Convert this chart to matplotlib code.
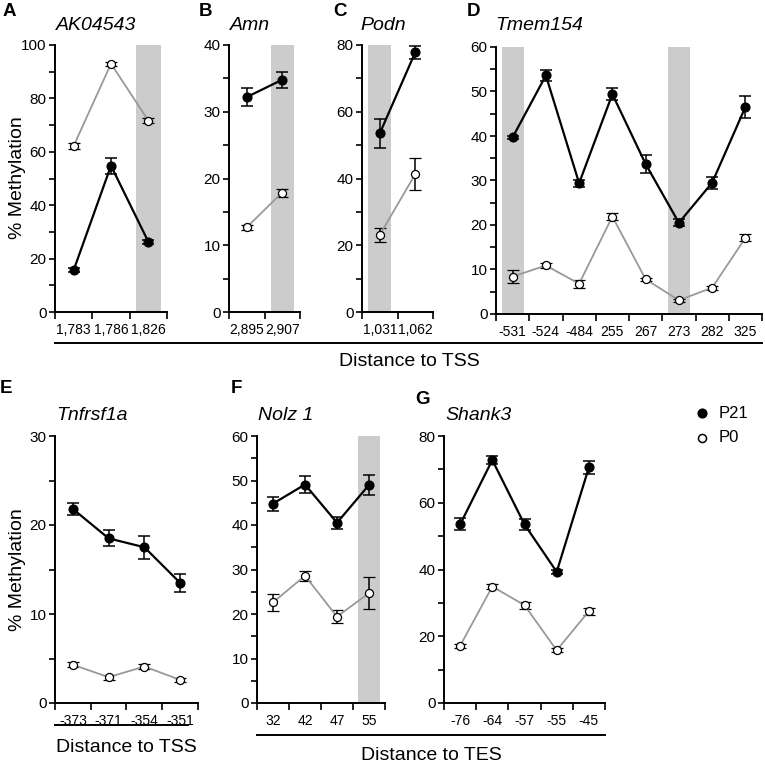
import numpy as np
import matplotlib
matplotlib.use("Agg")
import matplotlib.pyplot as plt
from matplotlib.lines import Line2D

plt.rcParams['font.family'] = ['Liberation Sans', 'DejaVu Sans']

W, H = 765, 763

# A - AK04543
ak_sites = ['1,783', '1,786', '1,826']
ak_p21 = [15.7, 54.8, 26.3]
ak_p21_err = [0.7, 3.0, 0.8]
ak_p0 = [62.2, 93.0, 71.7]
ak_p0_err = [1.0, 0.7, 1.0]
ak_shade = [2]

# B - Amn
amn_sites = ['2,895', '2,907']
amn_p21 = [32.2, 34.8]
amn_p21_err = [1.4, 1.2]
amn_p0 = [12.7, 17.9]
amn_p0_err = [0.4, 0.6]
amn_shade = [1]

# C - Podn
podn_sites = ['1,031', '1,062']
podn_p21 = [53.5, 77.8]
podn_p21_err = [4.4, 2.0]
podn_p0 = [23.1, 41.3]
podn_p0_err = [2.2, 4.8]
podn_shade = [0]

# D - Tmem154
tmem_sites = ['-531', '-524', '-484', '255', '267', '273', '282', '325']
tmem_p21 = [39.7, 53.6, 29.4, 49.4, 33.7, 20.5, 29.5, 46.5]
tmem_p21_err = [0.3, 1.3, 0.8, 1.3, 2.0, 0.8, 1.3, 2.4]
tmem_p0 = [8.4, 10.9, 6.8, 21.9, 7.8, 3.1, 5.9, 17.1]
tmem_p0_err = [1.5, 0.5, 0.9, 0.7, 0.4, 0.3, 0.5, 0.8]
tmem_shade = [0, 5]

# E - Tnfrsf1a
tnf_sites = ['-373', '-371', '-354', '-351']
tnf_p21 = [21.8, 18.5, 17.5, 13.5]
tnf_p21_err = [0.7, 0.9, 1.3, 1.0]
tnf_p0 = [4.3, 2.9, 4.1, 2.6]
tnf_p0_err = [0.3, 0.3, 0.3, 0.2]
tnf_shade = []

# F - Nolz 1
nolz_sites = ['32', '42', '47', '55']
nolz_p21 = [44.8, 49.1, 40.5, 49.0]
nolz_p21_err = [1.6, 1.9, 1.4, 2.2]
nolz_p0 = [22.6, 28.6, 19.4, 24.7]
nolz_p0_err = [1.9, 1.1, 1.5, 3.6]
nolz_shade = [3]

# G - Shank3
shank_sites = ['-76', '-64', '-57', '-55', '-45']
shank_p21 = [53.5, 72.8, 53.5, 39.3, 70.6]
shank_p21_err = [1.8, 1.2, 1.7, 0.7, 2.0]
shank_p0 = [17.1, 34.9, 29.3, 15.8, 27.5]
shank_p0_err = [0.7, 0.8, 1.0, 0.6, 1.1]
shank_shade = []


def fxy(px, py):
    return px / W, 1 - py / H


def px_axes(fig, x0, y0, x1, y1):
    return fig.add_axes([x0 / W, 1 - y1 / H, (x1 - x0) / W, (y1 - y0) / H])


def draw_panel(ax, sites, p21, p21_err, p0, p0_err, shade, ymax, ystep, yminor):
    n = len(sites)
    x = np.arange(n)
    for i in shade:
        ax.axvspan(i - 0.33, i + 0.33, color='#cccccc', lw=0, zorder=0)
    ax.errorbar(x, p0, yerr=p0_err, color='#999999', lw=1.3, marker='o', ms=5.8,
                mfc='white', mec='black', mew=0.9, ecolor='black', elinewidth=1.1,
                capsize=4, capthick=1.1, zorder=3)
    ax.errorbar(x, p21, yerr=p21_err, color='black', lw=1.6, marker='o', ms=6.3,
                mfc='black', mec='black', ecolor='black', elinewidth=1.1,
                capsize=4, capthick=1.1, zorder=4)
    ax.set_xlim(-0.5, n - 0.5)
    ax.set_ylim(0, ymax)
    ax.set_xticks(np.arange(-0.5, n, 1))
    ax.set_xticklabels([])
    ax.set_xticks(x, minor=True)
    ax.set_xticklabels(sites, minor=True, fontsize=10)
    ax.tick_params(axis='x', which='minor', length=0, pad=8)
    ax.tick_params(axis='x', which='major', length=5, width=1.2)
    ax.set_yticks(np.arange(0, ymax + 0.1, ystep))
    ax.set_yticks(np.arange(0, ymax + 0.1, yminor), minor=True)
    ax.tick_params(axis='y', which='both', length=4.5, width=1.2, labelsize=11, pad=1.5)
    for s in ['top', 'right']:
        ax.spines[s].set_visible(False)
    for s in ['left', 'bottom']:
        ax.spines[s].set_linewidth(1.4)
    ax.patch.set_alpha(0)


fig = plt.figure(figsize=(W / 100, H / 100), dpi=100)

panels = [
    ((55, 45, 167, 312), ak_sites, ak_p21, ak_p21_err, ak_p0, ak_p0_err, ak_shade, 100, 20, 10,
     'AK04543', 'A', (9, 12), (56, 25)),
    ((229, 45, 300, 312), amn_sites, amn_p21, amn_p21_err, amn_p0, amn_p0_err, amn_shade, 40, 10, 5,
     'Amn', 'B', (206, 12), (230, 25)),
    ((362, 45, 433, 312), podn_sites, podn_p21, podn_p21_err, podn_p0, podn_p0_err, podn_shade, 80, 20, 10,
     'Podn', 'C', (340, 12), (360, 25)),
    ((496, 47, 762, 314), tmem_sites, tmem_p21, tmem_p21_err, tmem_p0, tmem_p0_err, tmem_shade, 60, 10, 5,
     'Tmem154', 'D', (474, 12), (495, 25)),
    ((55, 436, 198, 703), tnf_sites, tnf_p21, tnf_p21_err, tnf_p0, tnf_p0_err, tnf_shade, 30, 10, 5,
     'Tnfrsf1a', 'E', (6, 389), (56, 415)),
    ((257, 436, 385, 703), nolz_sites, nolz_p21, nolz_p21_err, nolz_p0, nolz_p0_err, nolz_shade, 60, 10, 5,
     'Nolz 1', 'F', (236, 389), (258, 415)),
    ((444, 436, 605, 703), shank_sites, shank_p21, shank_p21_err, shank_p0, shank_p0_err, shank_shade, 80, 20, 10,
     'Shank3', 'G', (423, 400), (445, 415)),
]

for box, sites, a, ae, b, be, shade, ymax, ystep, yminor, title, letter, lpos, tpos in panels:
    ax = px_axes(fig, *box)
    draw_panel(ax, sites, a, ae, b, be, shade, ymax, ystep, yminor)
    fig.text(*fxy(*lpos), letter, fontsize=13.5, fontweight='bold', ha='center', va='center')
    fig.text(*fxy(*tpos), title, fontsize=14, style='italic', ha='left', va='center')

# y labels
fig.text(*fxy(18, 178), '% Methylation', fontsize=14, rotation=90, ha='center', va='center')
fig.text(*fxy(18, 570), '% Methylation', fontsize=14, rotation=90, ha='center', va='center')

# x group labels with underlines
for x0, x1, yl, xt, yt, label in [(55, 762, 343, 409, 362, 'Distance to TSS'),
                                  (55, 188, 725, 126, 748, 'Distance to TSS'),
                                  (257, 605, 735, 431, 756, 'Distance to TES')]:
    fig.add_artist(Line2D([x0 / W, x1 / W], [1 - yl / H, 1 - yl / H], color='black', lw=1.4))
    fig.text(*fxy(xt, yt), label, fontsize=14, ha='center', va='center')

# legend
fig.add_artist(Line2D([702 / W], [1 - 413 / H], ls='none', marker='o', ms=6.3,
                      mfc='black', mec='black'))
fig.add_artist(Line2D([702 / W], [1 - 438 / H], ls='none', marker='o', ms=5.8,
                      mfc='white', mec='black', mew=1.1))
fig.text(*fxy(719, 413), 'P21', fontsize=12, ha='left', va='center')
fig.text(*fxy(719, 438), 'P0', fontsize=12, ha='left', va='center')

fig.savefig('out.png', dpi=100)
